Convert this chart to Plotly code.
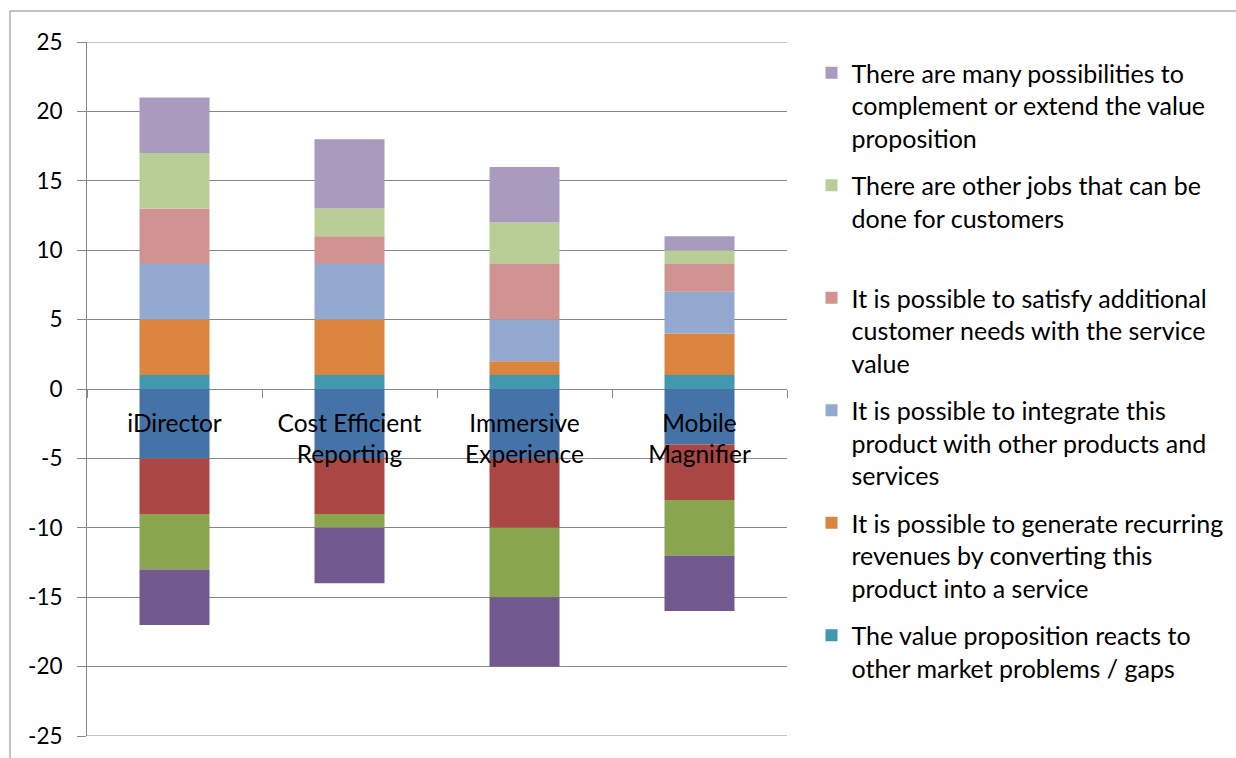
import plotly.graph_objects as go

categories = ["iDirector", "Cost Efficient<br>Reporting", "Immersive<br>Experience", "Mobile<br>Magnifier"]

# positive series (bottom to top)
pos_names = [
    "The value proposition reacts to<br>other market problems / gaps<br>\u00a0",
    "It is possible to generate recurring<br>revenues by converting this<br>product into a service",
    "It is possible to integrate this<br>product with other products and<br>services",
    "It is possible to satisfy additional<br>customer needs with the service<br>value",
    "There are other jobs that can be<br>done for customers<br>\u00a0",
    "There are many possibilities to<br>complement or extend the value<br>proposition",
]
market_gaps = [1, 1, 1, 1]
recurring_revenues = [4, 4, 1, 3]
integrate_products = [4, 4, 3, 3]
additional_needs = [4, 2, 4, 2]
other_jobs = [4, 2, 3, 1]
extend_value = [4, 5, 4, 1]
pos_values = [market_gaps, recurring_revenues, integrate_products, additional_needs, other_jobs, extend_value]
pos_colors = ["#4198AF", "#DB843D", "#93A9CF", "#D19392", "#B9CD96", "#A99BBD"]

# negative series (from zero downwards)
neg_names = ["Negative 1", "Negative 2", "Negative 3", "Negative 4"]
neg_1 = [-5, -5, -5, -4]
neg_2 = [-4, -4, -5, -4]
neg_3 = [-4, -1, -5, -4]
neg_4 = [-4, -4, -5, -4]
neg_values = [neg_1, neg_2, neg_3, neg_4]
neg_colors = ["#4572A7", "#AA4643", "#89A54E", "#71588F"]

y_ticks = list(range(-25, 30, 5))

FONT = "Lato"
GRID = "#878787"

fig = go.Figure()
npos = len(pos_names)
for i, (n, v, c) in enumerate(zip(pos_names, pos_values, pos_colors)):
    fig.add_trace(go.Bar(x=categories, y=v, name=n, marker=dict(color=c, line=dict(width=0)),
                         legendgroup="g%d" % i, legendrank=npos - i))
for n, v, c in zip(neg_names, neg_values, neg_colors):
    fig.add_trace(go.Bar(x=categories, y=v, name=n, marker=dict(color=c, line=dict(width=0)),
                         showlegend=False))

W, H = 1236, 758
ml, mr, mt, mb = 87, 449, 42, 22
pw, ph = W - ml - mr, H - mt - mb

def px(xp):
    return (xp - ml) / pw

def py(yp):
    return (H - mb - yp) / ph

fig.update_layout(
    width=W, height=H,
    margin=dict(l=ml, r=mr, t=mt, b=mb, pad=0, autoexpand=False),
    barmode="relative",
    bargap=0.6,
    plot_bgcolor="white",
    paper_bgcolor="white",
    font=dict(family=FONT, size=22, color="#000000"),
    xaxis=dict(
        type="category",
        anchor="free", position=0.5,
        showline=False,
        ticks="outside", ticklen=8, tickcolor=GRID, tickwidth=1, tickson="boundaries",
        showgrid=False, zeroline=False,
        tickfont=dict(family=FONT, size=24.5, color="#000000"),
        ticklabelstandoff=17,
        layer="above traces",
    ),
    yaxis=dict(
        range=[y_ticks[0], y_ticks[-1]], tickvals=y_ticks, ticktext=[str(t) for t in y_ticks],
        showline=True, linecolor=GRID, linewidth=1,
        ticks="outside", ticklen=9, tickcolor=GRID,
        showgrid=True, gridcolor=GRID, gridwidth=1,
        zeroline=True, zerolinecolor=GRID, zerolinewidth=1,
        tickfont=dict(family=FONT, size=22.5, color="#000000"),
        ticklabelstandoff=10,
    ),
    legend=dict(
        x=px(811.5), y=py(50), xanchor="left", yanchor="top",
        traceorder="grouped", tracegroupgap=12,
        font=dict(family=FONT, size=25, color="#000000"),
        valign="top", bgcolor="rgba(0,0,0,0)",
    ),
    showlegend=True,
    shapes=[
        dict(type="line", xref="paper", yref="paper", x0=px(10), x1=px(W + 5), y0=py(11), y1=py(11),
             line=dict(color=GRID, width=1)),
        dict(type="line", xref="paper", yref="paper", x0=px(10), x1=px(10), y0=py(11), y1=py(H + 5),
             line=dict(color=GRID, width=1)),
        dict(type="line", xref="paper", yref="y", x0=0, x1=1, y0=y_ticks[-1], y1=y_ticks[-1],
             line=dict(color=GRID, width=1), layer="below"),
        dict(type="line", xref="paper", yref="y", x0=0, x1=1, y0=y_ticks[0], y1=y_ticks[0],
             line=dict(color=GRID, width=1), layer="below"),
    ],
)

fig.write_html("out.html")
